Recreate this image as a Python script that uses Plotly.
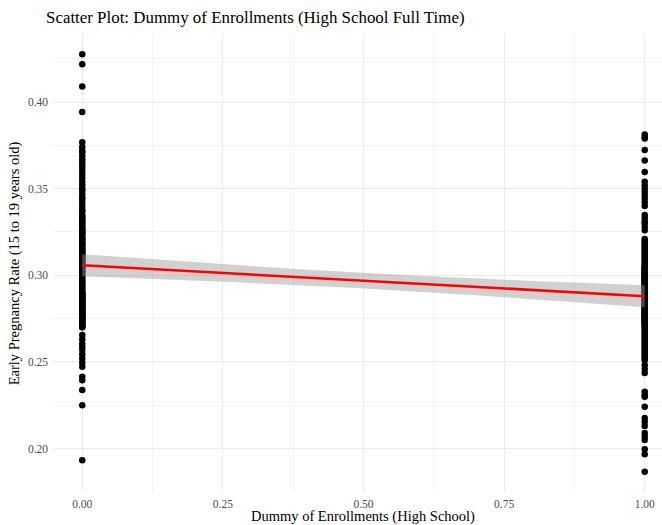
import numpy as np
import plotly.graph_objects as go

# Early pregnancy rate (15-19) by municipality, split by the enrollment dummy
rate_dummy0 = [
    0.4275, 0.4218, 0.4090, 0.3942, 0.3768,
    0.374, 0.372, 0.371, 0.369, 0.367, 0.366, 0.364, 0.362, 0.360, 0.358,
    0.356, 0.354, 0.352, 0.350, 0.349, 0.347, 0.345, 0.344, 0.342, 0.340,
    0.338, 0.337, 0.335, 0.334, 0.333, 0.332, 0.331, 0.330,
    0.329, 0.328, 0.327, 0.326, 0.325, 0.324, 0.323, 0.322, 0.321, 0.320,
    0.319, 0.318, 0.317, 0.316, 0.315, 0.314, 0.313, 0.312, 0.311, 0.310,
    0.309, 0.308, 0.307, 0.306, 0.305, 0.304, 0.303, 0.302, 0.301, 0.300,
    0.325, 0.321, 0.318, 0.315, 0.313, 0.311, 0.309, 0.307, 0.305, 0.302,
    0.299, 0.298, 0.297, 0.296, 0.295, 0.294, 0.293, 0.292, 0.291, 0.290,
    0.289, 0.288, 0.287, 0.286, 0.285, 0.284, 0.283, 0.282, 0.281, 0.280,
    0.279, 0.278, 0.277, 0.276, 0.275, 0.274, 0.273, 0.272, 0.271, 0.270,
    0.290, 0.289, 0.288, 0.287, 0.286, 0.285, 0.284, 0.283, 0.282, 0.281,
    0.280, 0.279, 0.278, 0.278, 0.277, 0.276, 0.276, 0.275, 0.274, 0.273,
    0.272, 0.271, 0.270,
    0.2655, 0.2630, 0.2605, 0.2588, 0.2570, 0.2545, 0.2520, 0.2495, 0.2473,
    0.2415, 0.2395, 0.2338, 0.2250, 0.1933,
]

rate_dummy1 = [
    0.3812, 0.3798, 0.3790, 0.3723, 0.3663, 0.3596,
    0.354, 0.352, 0.350, 0.348, 0.346, 0.344, 0.342, 0.340,
    0.3348, 0.333, 0.331, 0.330, 0.328, 0.326,
    0.321, 0.320, 0.319, 0.318, 0.317, 0.316, 0.315, 0.314, 0.313, 0.312,
    0.311, 0.310, 0.309, 0.308, 0.307, 0.306, 0.305, 0.304, 0.303, 0.302,
    0.301, 0.300, 0.299, 0.298, 0.297, 0.296, 0.295, 0.294, 0.293, 0.292,
    0.291, 0.290, 0.289, 0.288, 0.287, 0.286, 0.285, 0.284, 0.283, 0.282,
    0.281, 0.280, 0.279, 0.278, 0.277, 0.276, 0.275, 0.274, 0.273, 0.272,
    0.271, 0.270, 0.269, 0.268, 0.267, 0.266, 0.265, 0.264, 0.263, 0.262,
    0.261, 0.260, 0.259, 0.258, 0.257, 0.256, 0.255, 0.254, 0.253, 0.252,
    0.251,
    0.304, 0.303, 0.302, 0.301, 0.300, 0.299, 0.298, 0.297, 0.296, 0.295,
    0.294, 0.293, 0.292, 0.291, 0.290, 0.289, 0.288, 0.287, 0.286, 0.285,
    0.284, 0.283, 0.282, 0.281, 0.280, 0.279, 0.278, 0.277, 0.276, 0.275,
    0.274, 0.273, 0.272,
    0.2482, 0.2460, 0.2436, 0.2328, 0.2310, 0.2299, 0.2242, 0.2177, 0.2155,
    0.2130, 0.2090, 0.2070, 0.2050, 0.1996, 0.1967, 0.1867,
]

x_ticks = [0.0, 0.25, 0.5, 0.75, 1.0]
y_ticks = [0.20, 0.25, 0.30, 0.35, 0.40]

x = np.array([0.0] * len(rate_dummy0) + [1.0] * len(rate_dummy1))
y = np.array(rate_dummy0 + rate_dummy1)

# OLS fit with a 95% confidence band (as geom_smooth(method = "lm"))
n = len(x)
X = np.column_stack([np.ones(n), x])
beta, *_ = np.linalg.lstsq(X, y, rcond=None)
resid = y - X @ beta
s2 = np.sum(resid ** 2) / (n - 2)
xbar = x.mean()
sxx = np.sum((x - xbar) ** 2)
t_crit = 1.9686  # t quantile, 0.975, df = n - 2
xs = np.linspace(0, 1, 101)
fit = beta[0] + beta[1] * xs
se = np.sqrt(s2 * (1.0 / n + (xs - xbar) ** 2 / sxx))
upper = fit + t_crit * se
lower = fit - t_crit * se

FONT = "Liberation Serif, Times New Roman, serif"

fig = go.Figure()
fig.add_trace(go.Scatter(
    x=x, y=y, mode="markers",
    marker=dict(color="black", size=6.5, line=dict(width=0)),
    hoverinfo="x+y", showlegend=False,
))
fig.add_trace(go.Scatter(
    x=np.concatenate([xs, xs[::-1]]),
    y=np.concatenate([upper, lower[::-1]]),
    fill="toself", fillcolor="rgba(153,153,153,0.45)",
    line=dict(width=0), mode="lines", hoverinfo="skip", showlegend=False,
))
fig.add_trace(go.Scatter(
    x=xs, y=fit, mode="lines",
    line=dict(color="#FF0000", width=2.6), showlegend=False,
))

grid_major = "#EBEBEB"
grid_minor = "#F3F3F3"

fig.update_layout(
    width=662, height=525,
    margin=dict(l=53, r=0, t=34, b=33, pad=0),
    paper_bgcolor="white", plot_bgcolor="white",
    font=dict(family=FONT, color="#4D4D4D"),
    xaxis=dict(
        range=[-0.052, 1.0307], tickvals=x_ticks, tickformat=".2f",
        showgrid=True, gridcolor=grid_major, gridwidth=1.1,
        minor=dict(dtick=0.125, tick0=0, showgrid=True,
                   gridcolor=grid_minor, gridwidth=0.8),
        zeroline=False, showline=False, ticks="",
        tickfont=dict(family=FONT, size=11.5, color="#4D4D4D"),
        ticklabelstandoff=3, automargin=False,
    ),
    yaxis=dict(
        range=[0.17496, 0.43924], tickvals=y_ticks, tickformat=".2f",
        showgrid=True, gridcolor=grid_major, gridwidth=1.1,
        minor=dict(dtick=0.025, tick0=0, showgrid=True,
                   gridcolor=grid_minor, gridwidth=0.8),
        zeroline=False, showline=False, ticks="",
        tickfont=dict(family=FONT, size=11.5, color="#4D4D4D"),
        ticklabelstandoff=4, automargin=False,
    ),
    annotations=[
        dict(text="Scatter Plot: Dummy of Enrollments (High School Full Time)",
             xref="paper", yref="paper", x=-0.0148, y=1.036,
             xanchor="left", yanchor="middle", showarrow=False,
             font=dict(family=FONT, size=16.9, color="black")),
        dict(text="Dummy of Enrollments (High School)",
             xref="x", yref="paper", x=0.5, y=-0.0535,
             xanchor="center", yanchor="middle", showarrow=False,
             font=dict(family=FONT, size=14.5, color="black")),
        dict(text="Early Pregnancy Rate (15 to 19 years old)",
             xref="paper", yref="paper", x=-0.0635, y=0.5,
             xanchor="center", yanchor="middle", textangle=-90,
             showarrow=False,
             font=dict(family=FONT, size=14.5, color="black")),
    ],
)

fig.write_html("out.html")
